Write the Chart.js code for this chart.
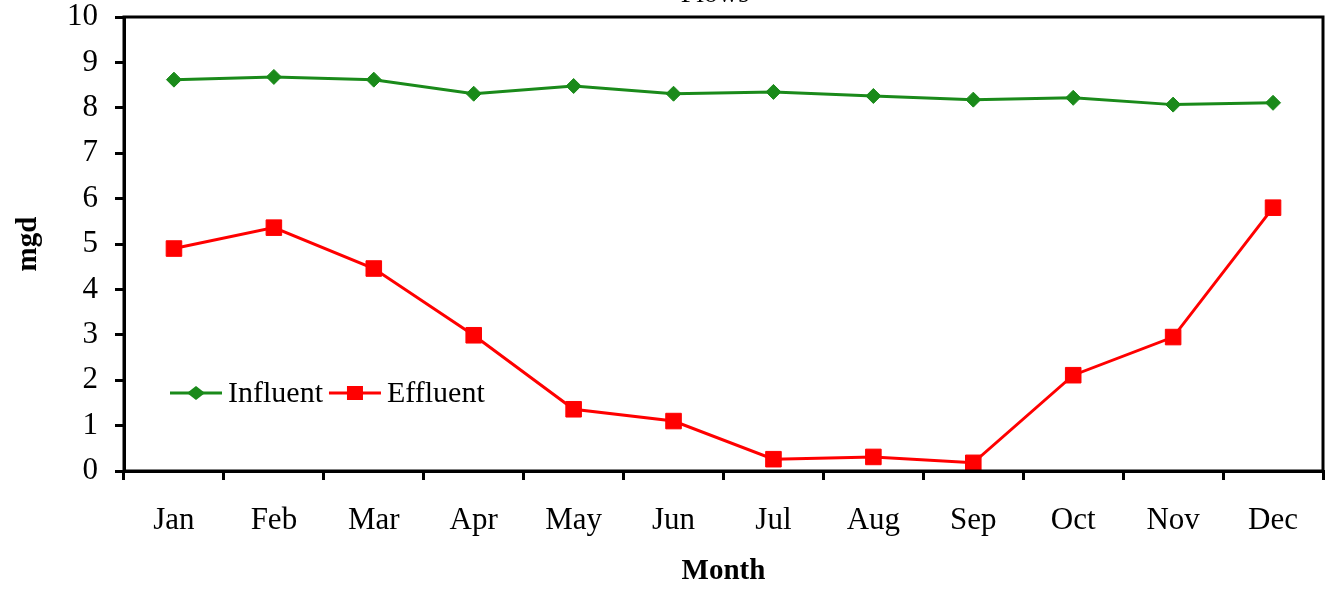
<!DOCTYPE html>
<html>
<head>
<meta charset="utf-8">
<script src="https://cdn.jsdelivr.net/npm/chart.js@4/dist/chart.umd.min.js"></script>
<style>
  html, body { margin: 0; padding: 0; background: #fff; }
  #wrap { width: 1330px; height: 589px; }
</style>
</head>
<body>
<div id="wrap"><canvas id="c" width="1330" height="589"></canvas></div>
<script>
// Monthly flows (mgd)
const months = ['Jan','Feb','Mar','Apr','May','Jun','Jul','Aug','Sep','Oct','Nov','Dec'];
const influent = [8.62, 8.68, 8.62, 8.31, 8.48, 8.31, 8.35, 8.26, 8.18, 8.22, 8.07, 8.11];
const effluent = [4.90, 5.36, 4.46, 2.99, 1.36, 1.10, 0.26, 0.31, 0.18, 2.11, 2.95, 5.80];
const yTicks = [0,1,2,3,4,5,6,7,8,9,10];

const FONT = '"Liberation Serif", "Times New Roman", serif';
const GREEN = '#1a8a1a';
const RED = '#ff0000';

// Frame around the plot area, in-plot legend and clipped title
const extras = {
  id: 'extras',
  afterDatasetsDraw(chart) {
    const { ctx, chartArea: a } = chart;
    ctx.save();
    ctx.strokeStyle = '#000';
    ctx.lineWidth = 3;
    ctx.strokeRect(a.left, a.top, a.right - a.left, a.bottom - a.top);

    // title, mostly above the canvas edge
    ctx.fillStyle = '#000';
    ctx.font = '28px ' + FONT;
    ctx.textAlign = 'center';
    ctx.textBaseline = 'alphabetic';
    ctx.fillText('Flows', 715, 2);

    // legend inside the plot
    const y = 393;
    let x = 170;
    ctx.font = '30px ' + FONT;
    ctx.textAlign = 'left';
    ctx.textBaseline = 'middle';
    chart.data.datasets.forEach(ds => {
      ctx.strokeStyle = ds.borderColor;
      ctx.lineWidth = 3;
      ctx.beginPath();
      ctx.moveTo(x, y);
      ctx.lineTo(x + 52, y);
      ctx.stroke();
      const cx = x + 26;
      ctx.fillStyle = ds.pointBackgroundColor;
      ctx.beginPath();
      if (ds.pointStyle === 'rectRot') {
        ctx.moveTo(cx, y - 7); ctx.lineTo(cx + 9, y); ctx.lineTo(cx, y + 7); ctx.lineTo(cx - 9, y);
      } else {
        ctx.rect(cx - 8, y - 7, 16, 14);
      }
      ctx.closePath();
      ctx.fill();
      ctx.fillStyle = '#000';
      ctx.fillText(ds.label, x + 58, y + 1);
      x += 58 + ctx.measureText(ds.label).width + 6;
    });
    ctx.restore();
  }
};

new Chart(document.getElementById('c'), {
  type: 'line',
  data: {
    labels: months,
    datasets: [
      {
        label: 'Influent',
        data: influent,
        borderColor: GREEN,
        backgroundColor: GREEN,
        pointBackgroundColor: GREEN,
        pointBorderColor: GREEN,
        pointStyle: 'rectRot',
        pointRadius: 7.5,
        pointBorderWidth: 1,
        borderWidth: 3,
        tension: 0
      },
      {
        label: 'Effluent',
        data: effluent,
        borderColor: RED,
        backgroundColor: RED,
        pointBackgroundColor: RED,
        pointBorderColor: RED,
        pointStyle: 'rect',
        pointRadius: 11,
        pointBorderWidth: 1,
        borderWidth: 3,
        tension: 0
      }
    ]
  },
  options: {
    responsive: false,
    animation: false,
    layout: { autoPadding: false, padding: { top: 17, right: 7, left: 0, bottom: 0 } },
    plugins: { legend: { display: false }, tooltip: { enabled: false }, title: { display: false } },
    scales: {
      x: {
        offset: true,
        grid: { offset: true, drawOnChartArea: false, drawTicks: true, tickLength: 9, color: '#000', lineWidth: 3 },
        border: { color: '#000', width: 3 },
        ticks: { color: '#000', font: { family: FONT, size: 31 }, padding: 22, maxRotation: 0 },
        title: { display: true, text: 'Month', color: '#000', font: { family: FONT, size: 29, weight: 'bold' }, padding: { top: 18, bottom: 0 } },
        afterFit(s) { s.height = 118; s.paddingLeft = 0; s.paddingRight = 0; }
      },
      y: {
        min: 0, max: 10,
        afterBuildTicks(s) { s.ticks = yTicks.map(v => ({ value: v })); },
        grid: { drawOnChartArea: false, drawTicks: true, tickLength: 9, color: '#000', lineWidth: 3 },
        border: { color: '#000', width: 3 },
        ticks: { color: '#000', font: { family: FONT, size: 31 }, padding: 17 },
        title: { display: true, text: 'mgd', color: '#000', font: { family: FONT, size: 29, weight: 'bold' }, padding: { top: 11, bottom: 13 } },
        afterFit(s) { s.width = 124; s.paddingTop = 0; s.paddingBottom = 0; }
      }
    }
  },
  plugins: [extras]
});
</script>
</body>
</html>
